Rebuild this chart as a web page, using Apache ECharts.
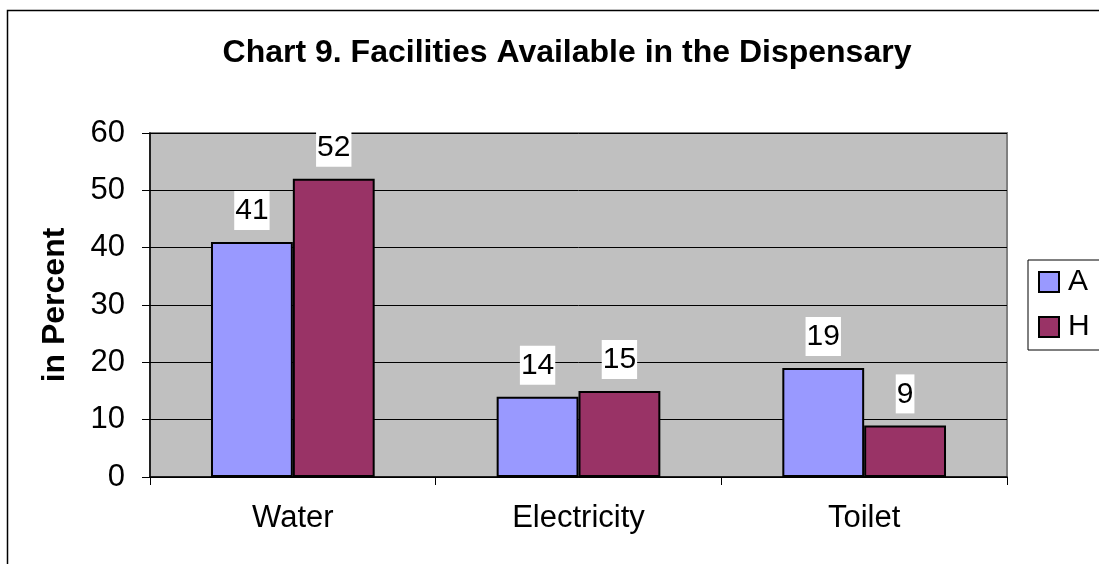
<!DOCTYPE html>
<html>
<head>
<meta charset="utf-8">
<script src="https://cdn.jsdelivr.net/npm/echarts@6/dist/echarts.min.js"></script>
<style>
  html, body { margin: 0; padding: 0; background: #fff; }
  #main { width: 1099px; height: 564px; }
</style>
</head>
<body>
<div id="main"></div>
<script>
// 数据
var categories = ['Water', 'Electricity', 'Toilet'];
var seriesA = [41, 14, 19];
var seriesH = [52, 15, 9];
var yTicks = [0, 10, 20, 30, 40, 50, 60];

var myChart = echarts.init(document.getElementById('main'));
var font = 'Liberation Sans, Arial, sans-serif';

var barLabel = {
  show: true,
  position: 'top',
  distance: 12,
  color: '#000',
  fontSize: 30,
  fontFamily: font,
  backgroundColor: '#fff',
  padding: [5, 1, 4, 1]
};

var option = {
  animation: false,
  backgroundColor: '#fff',
  title: {
    text: 'Chart 9. Facilities Available in the Dispensary',
    left: 562,
    textAlign: 'center',
    top: 32,
    textStyle: { fontSize: 32, fontWeight: 'bold', color: '#000', fontFamily: font }
  },
  graphic: [{
    type: 'rect',
    shape: { x: 7.5, y: 10.5, width: 1100, height: 560 },
    style: { fill: 'none', stroke: '#000', lineWidth: 1.5 },
    silent: true
  }],
  legend: {
    orient: 'vertical',
    left: 1028,
    top: 260,
    padding: [7, 10, 8, 10],
    itemGap: 15,
    itemWidth: 20,
    itemHeight: 20,
    icon: 'rect',
    borderColor: '#000',
    borderWidth: 1,
    textStyle: { fontSize: 30, color: '#000', fontFamily: font, padding: [0, 0, 0, 4] },
    itemStyle: { borderColor: '#000', borderWidth: 2 },
    data: ['A', 'H']
  },
  grid: {
    left: 150,
    top: 133,
    right: 92,
    bottom: 87,
    show: true,
    backgroundColor: '#c0c0c0',
    borderColor: '#808080',
    borderWidth: 2
  },
  xAxis: {
    type: 'category',
    data: categories,
    axisLine: { lineStyle: { color: '#000', width: 1.5 } },
    axisTick: { show: true, length: 8, lineStyle: { color: '#000' } },
    axisLabel: { fontSize: 31, color: '#000', fontFamily: font, margin: 26 }
  },
  yAxis: {
    type: 'value',
    min: yTicks[0],
    max: yTicks[yTicks.length - 1],
    interval: 10,
    name: 'in Percent',
    nameLocation: 'middle',
    nameRotate: 90,
    nameGap: 79,
    nameTextStyle: { fontSize: 32, fontWeight: 'bold', color: '#000', fontFamily: font },
    axisLine: { show: true, lineStyle: { color: '#000', width: 1.5 } },
    axisTick: { show: true, length: 8, lineStyle: { color: '#000' } },
    axisLabel: { fontSize: 31, color: '#000', fontFamily: font, margin: 25 },
    splitLine: { show: true, lineStyle: { color: '#000', width: 1 } }
  },
  series: [
    {
      name: 'A',
      type: 'bar',
      data: seriesA,
      barGap: '0%',
      barCategoryGap: '42.7%',
      itemStyle: { color: '#9999ff', borderColor: '#000', borderWidth: 2 },
      label: barLabel
    },
    {
      name: 'H',
      type: 'bar',
      data: seriesH,
      itemStyle: { color: '#993366', borderColor: '#000', borderWidth: 2 },
      label: barLabel
    }
  ]
};

myChart.setOption(option);
</script>
</body>
</html>
